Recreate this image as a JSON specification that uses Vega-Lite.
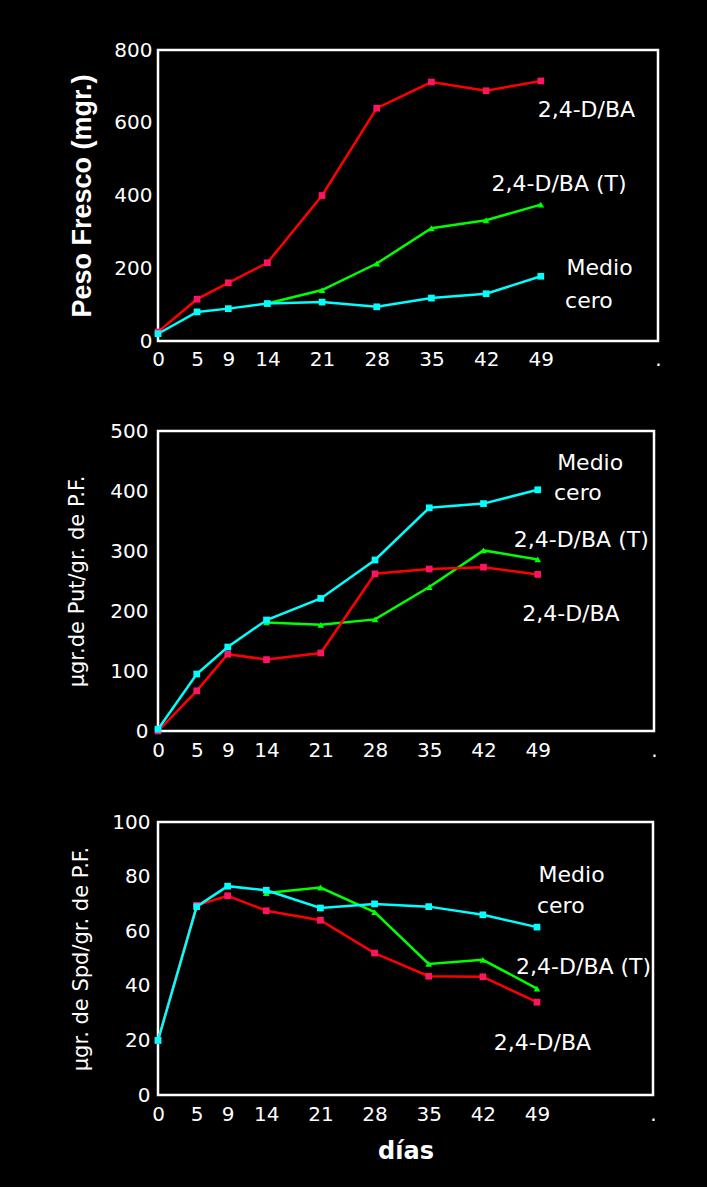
{
  "$schema": "https://vega.github.io/schema/vega-lite/v6.json",
  "background": "black",
  "padding": {"left": 65, "top": 38, "right": 47, "bottom": 22},
  "config": {
    "view": {"stroke": "white", "strokeWidth": 2.5},
    "axis": {"grid": false, "domain": false, "ticks": false, "tickSize": 0, "labelColor": "white", "labelFont": "DejaVu Sans", "labelFontSize": 20, "titleColor": "white", "labelOverlap": false, "labelFlush": false}
  },
  "datasets": {
    "series": [
      {"panel": "fresh", "series": "2,4-D/BA (T)", "day": 14, "value": 103},
      {"panel": "fresh", "series": "2,4-D/BA (T)", "day": 21, "value": 140},
      {"panel": "fresh", "series": "2,4-D/BA (T)", "day": 28, "value": 213},
      {"panel": "fresh", "series": "2,4-D/BA (T)", "day": 35, "value": 310},
      {"panel": "fresh", "series": "2,4-D/BA (T)", "day": 42, "value": 332},
      {"panel": "fresh", "series": "2,4-D/BA (T)", "day": 49, "value": 375},
      {"panel": "fresh", "series": "2,4-D/BA", "day": 0, "value": 25},
      {"panel": "fresh", "series": "2,4-D/BA", "day": 5, "value": 115},
      {"panel": "fresh", "series": "2,4-D/BA", "day": 9, "value": 160},
      {"panel": "fresh", "series": "2,4-D/BA", "day": 14, "value": 215},
      {"panel": "fresh", "series": "2,4-D/BA", "day": 21, "value": 400},
      {"panel": "fresh", "series": "2,4-D/BA", "day": 28, "value": 640},
      {"panel": "fresh", "series": "2,4-D/BA", "day": 35, "value": 712},
      {"panel": "fresh", "series": "2,4-D/BA", "day": 42, "value": 688},
      {"panel": "fresh", "series": "2,4-D/BA", "day": 49, "value": 715},
      {"panel": "fresh", "series": "Medio cero", "day": 0, "value": 20},
      {"panel": "fresh", "series": "Medio cero", "day": 5, "value": 80},
      {"panel": "fresh", "series": "Medio cero", "day": 9, "value": 89},
      {"panel": "fresh", "series": "Medio cero", "day": 14, "value": 103},
      {"panel": "fresh", "series": "Medio cero", "day": 21, "value": 107},
      {"panel": "fresh", "series": "Medio cero", "day": 28, "value": 94},
      {"panel": "fresh", "series": "Medio cero", "day": 35, "value": 118},
      {"panel": "fresh", "series": "Medio cero", "day": 42, "value": 130},
      {"panel": "fresh", "series": "Medio cero", "day": 49, "value": 178},

      {"panel": "put", "series": "2,4-D/BA (T)", "day": 14, "value": 181},
      {"panel": "put", "series": "2,4-D/BA (T)", "day": 21, "value": 177},
      {"panel": "put", "series": "2,4-D/BA (T)", "day": 28, "value": 186},
      {"panel": "put", "series": "2,4-D/BA (T)", "day": 35, "value": 240},
      {"panel": "put", "series": "2,4-D/BA (T)", "day": 42, "value": 301},
      {"panel": "put", "series": "2,4-D/BA (T)", "day": 49, "value": 286},
      {"panel": "put", "series": "2,4-D/BA", "day": 0, "value": 0},
      {"panel": "put", "series": "2,4-D/BA", "day": 5, "value": 67},
      {"panel": "put", "series": "2,4-D/BA", "day": 9, "value": 128},
      {"panel": "put", "series": "2,4-D/BA", "day": 14, "value": 119},
      {"panel": "put", "series": "2,4-D/BA", "day": 21, "value": 130},
      {"panel": "put", "series": "2,4-D/BA", "day": 28, "value": 262},
      {"panel": "put", "series": "2,4-D/BA", "day": 35, "value": 270},
      {"panel": "put", "series": "2,4-D/BA", "day": 42, "value": 273},
      {"panel": "put", "series": "2,4-D/BA", "day": 49, "value": 261},
      {"panel": "put", "series": "Medio cero", "day": 0, "value": 3},
      {"panel": "put", "series": "Medio cero", "day": 5, "value": 95},
      {"panel": "put", "series": "Medio cero", "day": 9, "value": 140},
      {"panel": "put", "series": "Medio cero", "day": 14, "value": 185},
      {"panel": "put", "series": "Medio cero", "day": 21, "value": 221},
      {"panel": "put", "series": "Medio cero", "day": 28, "value": 285},
      {"panel": "put", "series": "Medio cero", "day": 35, "value": 372},
      {"panel": "put", "series": "Medio cero", "day": 42, "value": 379},
      {"panel": "put", "series": "Medio cero", "day": 49, "value": 402},

      {"panel": "spd", "series": "2,4-D/BA (T)", "day": 14, "value": 74},
      {"panel": "spd", "series": "2,4-D/BA (T)", "day": 21, "value": 76},
      {"panel": "spd", "series": "2,4-D/BA (T)", "day": 28, "value": 67},
      {"panel": "spd", "series": "2,4-D/BA (T)", "day": 35, "value": 48},
      {"panel": "spd", "series": "2,4-D/BA (T)", "day": 42, "value": 49.5},
      {"panel": "spd", "series": "2,4-D/BA (T)", "day": 49, "value": 39},
      {"panel": "spd", "series": "2,4-D/BA", "day": 0, "value": 20},
      {"panel": "spd", "series": "2,4-D/BA", "day": 5, "value": 69.5},
      {"panel": "spd", "series": "2,4-D/BA", "day": 9, "value": 73},
      {"panel": "spd", "series": "2,4-D/BA", "day": 14, "value": 67.5},
      {"panel": "spd", "series": "2,4-D/BA", "day": 21, "value": 64},
      {"panel": "spd", "series": "2,4-D/BA", "day": 28, "value": 52},
      {"panel": "spd", "series": "2,4-D/BA", "day": 35, "value": 43.5},
      {"panel": "spd", "series": "2,4-D/BA", "day": 42, "value": 43.3},
      {"panel": "spd", "series": "2,4-D/BA", "day": 49, "value": 34},
      {"panel": "spd", "series": "Medio cero", "day": 0, "value": 20},
      {"panel": "spd", "series": "Medio cero", "day": 5, "value": 69},
      {"panel": "spd", "series": "Medio cero", "day": 9, "value": 76.5},
      {"panel": "spd", "series": "Medio cero", "day": 14, "value": 75},
      {"panel": "spd", "series": "Medio cero", "day": 21, "value": 68.5},
      {"panel": "spd", "series": "Medio cero", "day": 28, "value": 70},
      {"panel": "spd", "series": "Medio cero", "day": 35, "value": 69},
      {"panel": "spd", "series": "Medio cero", "day": 42, "value": 66},
      {"panel": "spd", "series": "Medio cero", "day": 49, "value": 61.5}
    ],
    "labels": [
      {"panel": "fresh", "label": "2,4-D/BA", "day": 48.6, "value": 636},
      {"panel": "fresh", "label": "2,4-D/BA (T)", "day": 42.7, "value": 432},
      {"panel": "fresh", "label": "Medio", "day": 52.3, "value": 201},
      {"panel": "fresh", "label": "cero", "day": 52.1, "value": 109},
      {"panel": "put", "label": "Medio", "day": 51.5, "value": 447},
      {"panel": "put", "label": "cero", "day": 51.1, "value": 397},
      {"panel": "put", "label": "2,4-D/BA (T)", "day": 45.9, "value": 318},
      {"panel": "put", "label": "2,4-D/BA", "day": 47, "value": 195},
      {"panel": "spd", "label": "Medio", "day": 49.2, "value": 80.7},
      {"panel": "spd", "label": "cero", "day": 49, "value": 69.3},
      {"panel": "spd", "label": "2,4-D/BA (T)", "day": 46.3, "value": 47},
      {"panel": "spd", "label": "2,4-D/BA", "day": 43.4, "value": 19.1}
    ]
  },
  "columns": 1,
  "align": "none",
  "spacing": 48,
  "concat": [
    {
      "width": 500,
      "height": 291,
      "layer": [
        {
          "data": {"name": "series"},
          "transform": [{"filter": "datum.panel === 'fresh'"}],
          "mark": {"type": "line", "strokeWidth": 2.5},
          "encoding": {
            "x": {"field": "day", "type": "quantitative", "scale": {"domain": [0, 64], "nice": false}, "axis": {"values": [0, 5, 9, 14, 21, 28, 35, 42, 49, 64], "labelExpr": "datum.value == 64 ? '.' : datum.label", "title": null, "labelPadding": 8}},
            "y": {"field": "value", "type": "quantitative", "scale": {"domain": [0, 800], "nice": false}, "axis": {"values": [0, 200, 400, 600, 800], "title": "Peso Fresco (mgr.)", "titleFont": "Liberation Sans", "titleFontWeight": "bold", "titleFontSize": 27, "titlePadding": 17, "labelPadding": 6}},
            "stroke": {"field": "series", "type": "nominal", "scale": {"domain": ["2,4-D/BA (T)", "2,4-D/BA", "Medio cero"], "range": ["#00ff00", "#ff0000", "#00ffff"]}, "legend": null}
          }
        },
        {
          "data": {"name": "series"},
          "transform": [{"filter": "datum.panel === 'fresh'"}],
          "mark": {"type": "point", "filled": true, "opacity": 1, "size": 45},
          "encoding": {
            "x": {"field": "day", "type": "quantitative"},
            "y": {"field": "value", "type": "quantitative"},
            "fill": {"field": "series", "type": "nominal", "scale": {"domain": ["2,4-D/BA (T)", "2,4-D/BA", "Medio cero"], "range": ["#00ff00", "#ff1464", "#00ffff"]}, "legend": null},
            "shape": {"field": "series", "type": "nominal", "scale": {"domain": ["2,4-D/BA (T)", "2,4-D/BA", "Medio cero"], "range": ["triangle-up", "square", "square"]}, "legend": null}
          }
        },
        {
          "data": {"name": "labels"},
          "transform": [{"filter": "datum.panel === 'fresh'"}],
          "mark": {"type": "text", "align": "left", "baseline": "middle", "color": "white", "font": "DejaVu Sans", "fontSize": 22, "clip": true},
          "encoding": {
            "x": {"field": "day", "type": "quantitative"},
            "y": {"field": "value", "type": "quantitative"},
            "text": {"field": "label"}
          }
        }
      ]
    },
    {
      "width": 496,
      "height": 300,
      "layer": [
        {
          "data": {"name": "series"},
          "transform": [{"filter": "datum.panel === 'put'"}],
          "mark": {"type": "line", "strokeWidth": 2.5},
          "encoding": {
            "x": {"field": "day", "type": "quantitative", "scale": {"domain": [0, 64], "nice": false}, "axis": {"values": [0, 5, 9, 14, 21, 28, 35, 42, 49, 64], "labelExpr": "datum.value == 64 ? '.' : datum.label", "title": null, "labelPadding": 9}},
            "y": {"field": "value", "type": "quantitative", "scale": {"domain": [0, 500], "nice": false}, "axis": {"values": [0, 100, 200, 300, 400, 500], "title": "µgr.de Put/gr. de P.F.", "titleFont": "DejaVu Sans", "titleFontWeight": "normal", "titleFontSize": 21, "titlePadding": 22, "labelPadding": 10}},
            "stroke": {"field": "series", "type": "nominal", "scale": {"domain": ["2,4-D/BA (T)", "2,4-D/BA", "Medio cero"], "range": ["#00ff00", "#ff0000", "#00ffff"]}, "legend": null}
          }
        },
        {
          "data": {"name": "series"},
          "transform": [{"filter": "datum.panel === 'put'"}],
          "mark": {"type": "point", "filled": true, "opacity": 1, "size": 45},
          "encoding": {
            "x": {"field": "day", "type": "quantitative"},
            "y": {"field": "value", "type": "quantitative"},
            "fill": {"field": "series", "type": "nominal", "scale": {"domain": ["2,4-D/BA (T)", "2,4-D/BA", "Medio cero"], "range": ["#00ff00", "#ff1464", "#00ffff"]}, "legend": null},
            "shape": {"field": "series", "type": "nominal", "scale": {"domain": ["2,4-D/BA (T)", "2,4-D/BA", "Medio cero"], "range": ["triangle-up", "square", "square"]}, "legend": null}
          }
        },
        {
          "data": {"name": "labels"},
          "transform": [{"filter": "datum.panel === 'put'"}],
          "mark": {"type": "text", "align": "left", "baseline": "middle", "color": "white", "font": "DejaVu Sans", "fontSize": 22, "clip": true},
          "encoding": {
            "x": {"field": "day", "type": "quantitative"},
            "y": {"field": "value", "type": "quantitative"},
            "text": {"field": "label"}
          }
        }
      ]
    },
    {
      "width": 495,
      "height": 273,
      "layer": [
        {
          "data": {"name": "series"},
          "transform": [{"filter": "datum.panel === 'spd'"}],
          "mark": {"type": "line", "strokeWidth": 2.5},
          "encoding": {
            "x": {"field": "day", "type": "quantitative", "scale": {"domain": [0, 64], "nice": false}, "axis": {"values": [0, 5, 9, 14, 21, 28, 35, 42, 49, 64], "labelExpr": "datum.value == 64 ? '.' : datum.label", "title": "días", "titleFont": "DejaVu Sans", "titleFontWeight": "bold", "titleFontSize": 24, "titlePadding": 15, "labelPadding": 9}},
            "y": {"field": "value", "type": "quantitative", "scale": {"domain": [0, 100], "nice": false}, "axis": {"values": [0, 20, 40, 60, 80, 100], "title": "µgr. de Spd/gr. de P.F.", "titleFont": "DejaVu Sans", "titleFontWeight": "normal", "titleFontSize": 21, "titlePadding": 20, "labelPadding": 8}},
            "stroke": {"field": "series", "type": "nominal", "scale": {"domain": ["2,4-D/BA (T)", "2,4-D/BA", "Medio cero"], "range": ["#00ff00", "#ff0000", "#00ffff"]}, "legend": null}
          }
        },
        {
          "data": {"name": "series"},
          "transform": [{"filter": "datum.panel === 'spd'"}],
          "mark": {"type": "point", "filled": true, "opacity": 1, "size": 45},
          "encoding": {
            "x": {"field": "day", "type": "quantitative"},
            "y": {"field": "value", "type": "quantitative"},
            "fill": {"field": "series", "type": "nominal", "scale": {"domain": ["2,4-D/BA (T)", "2,4-D/BA", "Medio cero"], "range": ["#00ff00", "#ff1464", "#00ffff"]}, "legend": null},
            "shape": {"field": "series", "type": "nominal", "scale": {"domain": ["2,4-D/BA (T)", "2,4-D/BA", "Medio cero"], "range": ["triangle-up", "square", "square"]}, "legend": null}
          }
        },
        {
          "data": {"name": "labels"},
          "transform": [{"filter": "datum.panel === 'spd'"}],
          "mark": {"type": "text", "align": "left", "baseline": "middle", "color": "white", "font": "DejaVu Sans", "fontSize": 22, "clip": true},
          "encoding": {
            "x": {"field": "day", "type": "quantitative"},
            "y": {"field": "value", "type": "quantitative"},
            "text": {"field": "label"}
          }
        }
      ]
    }
  ]
}
